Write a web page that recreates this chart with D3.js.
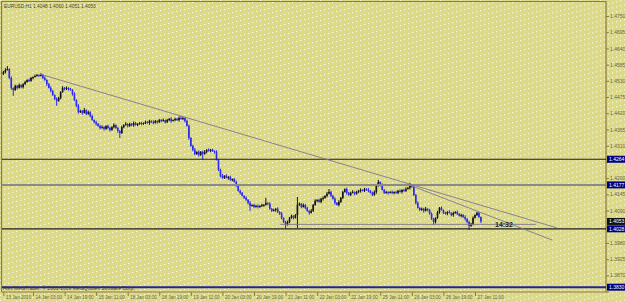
<!DOCTYPE html>
<html>
<head>
<meta charset="utf-8">
<script src="https://cdnjs.cloudflare.com/ajax/libs/d3/7.8.5/d3.min.js"></script>
<style>
  body { margin: 0; background: #dcda88; }
  svg { display: block; font-family: "Liberation Sans", Arial, sans-serif; }
</style>
</head>
<body>
<svg width="625" height="302"></svg>
<script>
  // EURUSD H1 closes, bar 0 = 13 Jan 2010 12:00
  const firstOpen = 1.4553;
  const closes = [
    1.4560,1.4567,1.4570,1.4540,1.4506,1.4499,1.4513,1.4506,1.4516,1.4509,
    1.4519,1.4526,1.4533,1.4530,1.4540,1.4543,1.4547,1.4550,1.4547,1.4550,
    1.4540,1.4533,1.4519,1.4506,1.4496,1.4482,1.4469,1.4462,1.4472,1.4492,
    1.4506,1.4502,1.4506,1.4502,1.4499,1.4486,1.4465,1.4445,1.4424,1.4428,
    1.4421,1.4431,1.4418,1.4424,1.4411,1.4397,1.4390,1.4384,1.4377,1.4370,
    1.4373,1.4367,1.4377,1.4370,1.4363,1.4373,1.4380,1.4370,1.4360,1.4353,
    1.4373,1.4380,1.4384,1.4377,1.4384,1.4380,1.4387,1.4380,1.4384,1.4387,
    1.4384,1.4387,1.4390,1.4387,1.4394,1.4390,1.4387,1.4394,1.4390,1.4397,
    1.4394,1.4397,1.4390,1.4397,1.4401,1.4394,1.4397,1.4401,1.4397,1.4404,
    1.4401,1.4404,1.4394,1.4377,1.4336,1.4309,1.4296,1.4282,1.4289,1.4279,
    1.4289,1.4282,1.4289,1.4296,1.4292,1.4296,1.4292,1.4289,1.4262,1.4228,
    1.4208,1.4201,1.4208,1.4201,1.4204,1.4194,1.4197,1.4187,1.4174,1.4157,
    1.4150,1.4140,1.4133,1.4126,1.4116,1.4106,1.4109,1.4102,1.4106,1.4102,
    1.4106,1.4109,1.4109,1.4116,1.4113,1.4096,1.4089,1.4092,1.4096,1.4085,
    1.4079,1.4065,1.4051,1.4041,1.4051,1.4065,1.4072,1.4065,1.4075,1.4109,
    1.4113,1.4102,1.4109,1.4099,1.4089,1.4082,1.4089,1.4109,1.4123,1.4126,
    1.4119,1.4130,1.4133,1.4140,1.4147,1.4153,1.4140,1.4130,1.4116,1.4109,
    1.4119,1.4133,1.4153,1.4163,1.4150,1.4143,1.4150,1.4153,1.4147,1.4153,
    1.4157,1.4160,1.4157,1.4163,1.4160,1.4157,1.4150,1.4143,1.4153,1.4174,
    1.4187,1.4177,1.4160,1.4150,1.4153,1.4150,1.4153,1.4150,1.4153,1.4150,
    1.4157,1.4153,1.4160,1.4157,1.4163,1.4167,1.4177,1.4170,1.4143,1.4116,
    1.4099,1.4092,1.4096,1.4089,1.4096,1.4092,1.4079,1.4062,1.4051,1.4065,
    1.4085,1.4099,1.4092,1.4082,1.4079,1.4085,1.4082,1.4075,1.4082,1.4085,
    1.4079,1.4072,1.4075,1.4068,1.4062,1.4051,1.4038,1.4045,1.4065,1.4075,
    1.4082,1.4068,1.4053
  ];
  // upper / lower shadow lengths in pips
  const upperPips = [
    4,6,10,3,5,2,4,3,5,2, 3,4,2,5,3,2,4,3,2,6, 3,5,2,4,6,3,2,5,4,3,
    6,3,5,2,4,3,5,2,6,4, 3,7,2,5,3,4,2,5,3,4, 6,3,2,5,4,3,6,2,4,3,
    5,3,6,2,4,3,5,4,2,3, 4,2,5,3,4,2,6,3,2,4, 3,5,2,4,3,6,2,4,3,5,
    6,3,2,4,5,3,4,6,2,5, 3,4,6,2,5,3,4,2,5,3, 4,6,2,5,3,4,2,3,5,2,
    4,3,2,5,3,6,2,4,3,5, 2,4,3,6,2,5,3,4,2,5, 3,6,2,4,5,3,4,2,3,6,
    4,2,5,3,4,2,6,3,5,2, 4,3,5,2,6,3,4,2,5,3, 6,3,4,2,5,3,4,6,2,4,
    3,5,2,4,3,6,2,4,5,3, 4,2,5,3,4,2,3,5,2,4, 3,5,2,4,6,3,5,2,4,3,
    5,2,4,3,6,2,4,5,3,2, 4,3,5,2,4,3,6,2,4,3, 5,2,4,3,6,2,4,3,5,2,
    4,3,2
  ];
  const lowerPips = [
    3,5,2,4,6,10,3,5,2,4, 5,3,2,4,3,5,2,3,4,2, 4,3,6,2,5,3,4,12,3,5,
    2,4,3,5,2,6,3,4,5,3, 6,2,4,3,5,2,4,6,3,5, 2,6,3,4,5,2,4,3,6,12,
    3,4,2,5,3,4,6,2,4,3, 5,3,4,2,6,3,4,2,5,3, 4,2,5,3,4,6,2,4,3,5,
    3,4,5,2,6,3,5,4,3,6, 4,8,3,5,2,4,3,6,2,4, 5,3,4,2,6,3,5,2,4,3,
    6,2,4,3,5,8,3,4,2,5, 3,4,6,2,5,3,4,2,6,3, 4,5,3,6,2,4,3,5,2,6,
    3,4,2,5,3,6,2,4,3,5, 2,4,6,3,5,2,4,3,6,2, 5,3,4,2,6,3,4,2,5,3,
    4,6,2,4,3,5,2,4,3,6, 3,5,2,4,3,6,2,4,5,3, 4,2,5,3,4,2,6,3,4,5,
    2,4,3,6,2,5,3,4,2,5, 3,6,2,4,3,5,2,4,6,3, 4,2,5,3,6,4,8,3,5,2,
    4,3,5
  ];
  const shadows = [
    [2, 1.4580, null], [5, null, 1.4479], [19, 1.4553, null], [27, null, 1.4445],
    [59, null, 1.4336], [90, 1.4411, null], [101, null, 1.4262], [125, null, 1.4089],
    [133, 1.4133, null], [143, null, 1.4028], [149, 1.4136, 1.4031], [165, 1.4163, null],
    [190, 1.4194, null], [206, 1.4184, null], [218, null, 1.4041], [236, null, 1.4024]
  ];

  const timeTickBars = [0,15,31,47,63,79,95,111,127,143,159,175,191,207,223,239];
  const timeTickLabels = ["13 Jan 2010","14 Jan 03:00","14 Jan 19:00","15 Jan 11:00",
    "18 Jan 03:00","18 Jan 19:00","19 Jan 11:00","20 Jan 03:00","20 Jan 19:00",
    "21 Jan 11:00","22 Jan 03:00","22 Jan 19:00","25 Jan 11:00","26 Jan 03:00",
    "26 Jan 19:00","27 Jan 11:00"];
  const priceTicks = [1.4750,1.4695,1.4640,1.4585,1.4530,1.4475,1.4420,1.4365,1.4310,
    1.4255,1.4200,1.4145,1.4090,1.4035,1.3980,1.3925,1.3870,1.3815];

  // horizontal levels drawn on the chart
  const levels = [1.4264, 1.4177, 1.4028, 1.3830];
  const levelColors = ["#1e1e1e", "#8a8a8a", "#1e1e1e", "#22229a"];
  const levelWidths = [1.2, 2, 1.2, 2];
  // trend lines as [bar, price] pairs
  const trendLines = [
    [[18.5, 1.4553], [280.6, 1.4031]],
    [[205.6, 1.4177], [278.1, 1.3990]],
    [[140.2, 1.4043], [269.8, 1.4043]]
  ];
  const bid = 1.4053;
  const title = "EURUSD,H1  1.4048 1.4060 1.4051 1.4053";
  const timer = "14:32";
  const copyright = "Alex MetaTrader, \u00a9 2001-2009 MetaQuotes Software Corp.";

  const svg = d3.select("svg"),
        width = +svg.attr("width"),
        height = +svg.attr("height");
  const axisX = 606, axisY = 292;
  const frame = "#8a7b3e", labelColor = "#6b6244";
  const pip = 0.0001;

  const x = d3.scaleLinear().domain([15, 239]).range([33, 475]);
  const y = d3.scaleLinear().domain([1.3815, 1.4750]).range([291.6, 16]);

  // dotted background, rows of dots slanting up to the right
  const pat = svg.append("defs").append("pattern")
    .attr("id", "dots").attr("patternUnits", "userSpaceOnUse")
    .attr("width", 4).attr("height", 5)
    .attr("patternTransform", "skewY(-14)");
  pat.append("rect").attr("width", 4).attr("height", 5).attr("fill", "#dcda88");
  pat.append("rect").attr("x", 0).attr("y", 0).attr("width", 1).attr("height", 1).attr("fill", "#fff");
  svg.append("rect").attr("width", width).attr("height", height).attr("fill", "#dcda88");
  svg.append("rect").attr("width", width).attr("height", height).attr("fill", "url(#dots)");

  // frame
  svg.append("path")
    .attr("d", `M1.5,${axisY}V1.5H${axisX}V${axisY}H1.5`)
    .attr("fill", "none").attr("stroke", frame).attr("stroke-width", 1.2);

  // candles
  const bars = closes.map((c, i) => {
    const o = i === 0 ? firstOpen : closes[i - 1];
    const s = shadows.find(d => d[0] === i);
    let h = Math.max(o, c) + upperPips[i] * pip,
        l = Math.min(o, c) - lowerPips[i] * pip;
    if (s && s[1] !== null) h = Math.max(h, s[1]);
    if (s && s[2] !== null) l = Math.min(l, s[2]);
    return { i, o, c, h, l };
  });
  const col = d => d.c >= d.o ? "#141414" : "#2a2af0";

  const g = svg.append("g");
  g.selectAll(".wick").data(bars).enter().append("line")
    .attr("x1", d => x(d.i)).attr("x2", d => x(d.i))
    .attr("y1", d => y(d.h)).attr("y2", d => y(d.l))
    .attr("stroke", col).attr("stroke-width", 1);
  g.selectAll(".body").data(bars).enter().append("rect")
    .attr("x", d => x(d.i) - 0.8)
    .attr("y", d => y(Math.max(d.o, d.c)))
    .attr("width", 1.6)
    .attr("height", d => Math.max(1, Math.abs(y(d.o) - y(d.c))))
    .attr("fill", col);

  // levels
  svg.selectAll(".level").data(levels).enter().append("line")
    .attr("x1", 2).attr("x2", axisX)
    .attr("y1", d => y(d)).attr("y2", d => y(d))
    .attr("stroke", (d, i) => levelColors[i])
    .attr("stroke-width", (d, i) => levelWidths[i]);

  // trend lines
  svg.selectAll(".trend").data(trendLines).enter().append("line")
    .attr("x1", d => x(d[0][0])).attr("y1", d => y(d[0][1]))
    .attr("x2", d => x(d[1][0])).attr("y2", d => y(d[1][1]))
    .attr("stroke", "#7f7790").attr("stroke-width", 0.9);

  // level tags on the price scale
  const tags = levels.map(v => ({ v, fill: "#000080" })).concat([{ v: bid, fill: "#111" }]);

  // price axis (labels hidden under a tag are left out, as in the terminal)
  const visibleTicks = priceTicks.filter(p => !tags.some(t => Math.abs(y(t.v) - y(p)) < 6.5));
  const yAxis = svg.append("g")
    .attr("transform", `translate(${axisX},0)`)
    .call(d3.axisRight(y).tickValues(priceTicks).tickFormat(d3.format(".4f")).tickSize(3).tickPadding(1));
  yAxis.select(".domain").remove();
  yAxis.selectAll("line").attr("stroke", frame);
  yAxis.selectAll("text")
    .attr("fill", labelColor).style("font-size", "5px")
    .style("display", d => visibleTicks.includes(d) ? null : "none");

  // time axis
  const xAxis = svg.append("g")
    .attr("transform", `translate(0,${axisY})`)
    .call(d3.axisBottom(x).tickValues(timeTickBars)
      .tickFormat((d, i) => timeTickLabels[i]).tickSize(4).tickPadding(1));
  xAxis.select(".domain").remove();
  xAxis.selectAll("line").attr("stroke", frame);
  xAxis.selectAll("text")
    .attr("text-anchor", "start").attr("dx", 2).attr("dy", "0.4em")
    .attr("fill", labelColor).style("font-size", "4.6px");

  const tag = svg.selectAll(".tag").data(tags).enter().append("g")
    .attr("transform", d => `translate(${axisX + 1},${y(d.v)})`);
  tag.append("rect").attr("y", -3.5).attr("width", 18).attr("height", 7).attr("fill", d => d.fill);
  tag.append("text").attr("x", 2).attr("dy", "0.35em")
    .attr("fill", "#fff").style("font-size", "5px")
    .text(d => d3.format(".4f")(d.v));

  // texts
  svg.append("text").attr("x", 4).attr("y", 8)
    .attr("fill", "#4a4632").style("font-size", "4.8px").text(title);
  svg.append("text").attr("x", 3).attr("y", 290)
    .attr("fill", "#3c3a2a").style("font-size", "5px").text(copyright);
  svg.append("text").attr("x", 495).attr("y", 227)
    .attr("fill", "#222").style("font-size", "7px").style("font-weight", "bold").text(timer);
</script>
</body>
</html>
